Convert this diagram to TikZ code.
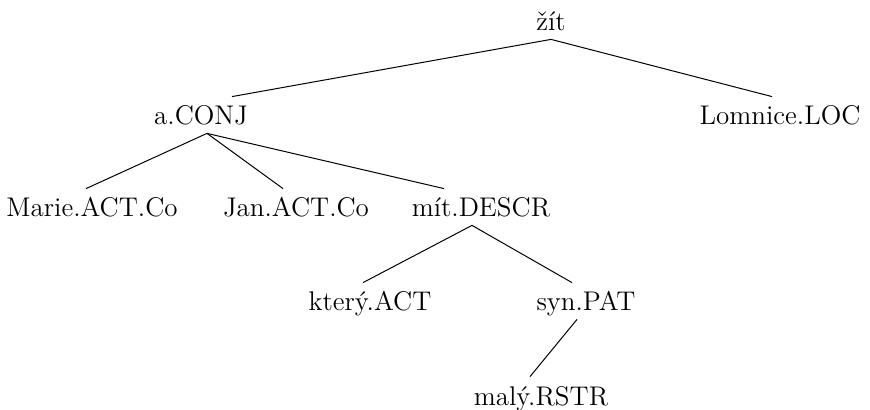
\documentclass[tikz,border=0pt]{standalone}
\usepackage{tikz}
\usetikzlibrary{calc}
\tikzset{
  word/.style={anchor=base, inner xsep=0pt, inner ysep=4pt, text height=10pt, text depth=0pt, font=\fontsize{13.5}{15}\selectfont},
  branch/.style={line width=0.5pt, color=black}
}

\begin{document}
\begin{tikzpicture}[x=0.5pt, y=-0.5pt]
		%%%%% START %%%%%
		\useasboundingbox (0, 0) rectangle (870, 410);
		
		\node[word] (zit) at (551, 31) {žít};
		
		\node[word] (conj) at (201, 125) {a.CONJ};
		\node[word] (loc) at (780, 125) {Lomnice.LOC};
		
		\node[word] (marie) at (92, 217) {Marie.ACT.Co};
		\node[word] (jan) at (296, 217) {Jan.ACT.Co};
		\node[word] (mit) at (481, 217) {mít.DESCR};
		
		\node[word] (ktery) at (370, 311) {který.ACT};
		\node[word] (syn) at (586, 311) {syn.PAT};
		
		\node[word] (maly) at (541, 405) {malý.RSTR};
		
		\draw[branch] (zit.south) -- ([xshift=15.5pt]conj.north);
		\draw[branch] (zit.south) -- ([xshift=-4pt]loc.north);
		
		\draw[branch] ([xshift=3pt]conj.south) -- ([xshift=-3pt]marie.north);
		\draw[branch] ([xshift=3pt]conj.south) -- ([xshift=-6.5pt]jan.north);
		\draw[branch] ([xshift=3pt]conj.south) -- ([xshift=-18.5pt]mit.north);
		
		\draw[branch] ([xshift=-4.5pt]mit.south) -- ([xshift=-3.5pt]ktery.north);
		\draw[branch] ([xshift=-4.5pt]mit.south) -- ([xshift=-7pt]syn.north);
		
		\draw[branch] ([xshift=-4.5pt]syn.south) -- ([xshift=-5.5pt]maly.north);
		
		%%%%% END %%%%%
	\end{tikzpicture}
\end{document}
